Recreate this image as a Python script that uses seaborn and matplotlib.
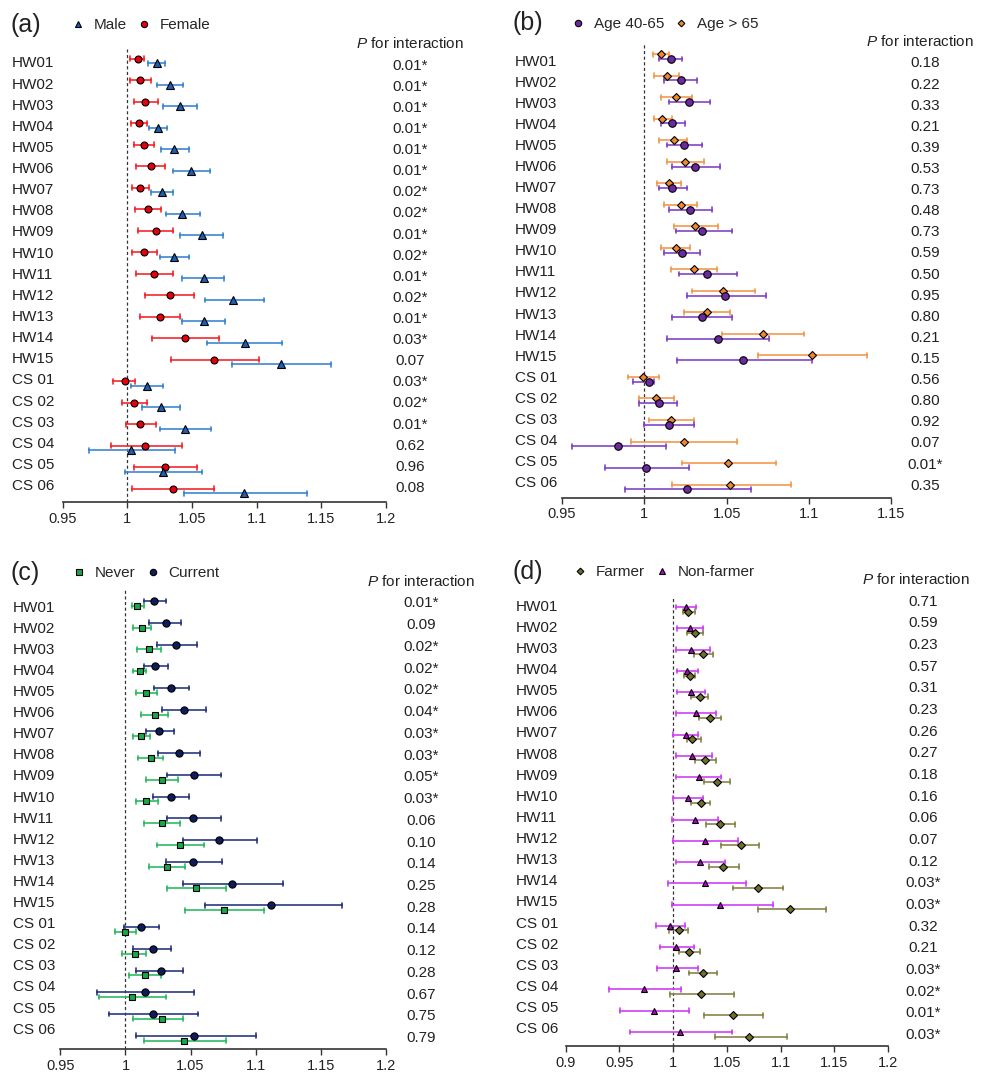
import numpy as np
import pandas as pd
import matplotlib.pyplot as plt
from matplotlib.lines import Line2D
from matplotlib.ticker import FuncFormatter
from matplotlib import transforms
import seaborn as sns

rows = [f"HW{i:02d}" for i in range(1, 16)] + [f"CS {i:02d}" for i in range(1, 7)]

# (a) sex
female_or = [1.008, 1.010, 1.014, 1.009, 1.013, 1.018, 1.010, 1.016, 1.022, 1.013, 1.021,
             1.033, 1.025, 1.045, 1.067, 0.998, 1.005, 1.010, 1.014, 1.029, 1.035]
female_lo = [1.002, 1.002, 1.005, 1.003, 1.005, 1.007, 1.004, 1.006, 1.008, 1.004, 1.007,
             1.014, 1.010, 1.019, 1.034, 0.989, 0.996, 0.999, 0.987, 1.005, 1.004]
female_hi = [1.013, 1.018, 1.024, 1.015, 1.021, 1.029, 1.017, 1.026, 1.035, 1.023, 1.035,
             1.052, 1.041, 1.071, 1.102, 1.006, 1.015, 1.022, 1.042, 1.054, 1.067]
male_or = [1.023, 1.033, 1.041, 1.024, 1.036, 1.049, 1.027, 1.042, 1.058, 1.036, 1.059,
           1.082, 1.059, 1.091, 1.119, 1.015, 1.026, 1.045, 1.003, 1.028, 1.090]
male_lo = [1.016, 1.023, 1.028, 1.017, 1.026, 1.035, 1.018, 1.030, 1.041, 1.025, 1.042,
           1.060, 1.042, 1.062, 1.081, 1.003, 1.011, 1.025, 0.970, 0.998, 1.044]
male_hi = [1.029, 1.043, 1.054, 1.031, 1.048, 1.064, 1.035, 1.056, 1.074, 1.048, 1.075,
           1.106, 1.076, 1.120, 1.158, 1.028, 1.041, 1.065, 1.037, 1.058, 1.139]
p_sex = ["0.01*", "0.01*", "0.01*", "0.01*", "0.01*", "0.01*", "0.02*", "0.02*", "0.01*", "0.02*",
         "0.01*", "0.02*", "0.01*", "0.03*", "0.07", "0.03*", "0.02*", "0.01*", "0.62", "0.96", "0.08"]

# (b) age
old_or = [1.010, 1.014, 1.019, 1.011, 1.018, 1.025, 1.015, 1.022, 1.031, 1.019, 1.030,
          1.048, 1.038, 1.072, 1.102, 0.999, 1.007, 1.016, 1.024, 1.051, 1.052]
old_lo = [1.005, 1.006, 1.010, 1.006, 1.009, 1.014, 1.008, 1.012, 1.018, 1.010, 1.016,
          1.029, 1.024, 1.047, 1.069, 0.990, 0.997, 1.003, 0.992, 1.023, 1.017]
old_hi = [1.015, 1.021, 1.029, 1.017, 1.026, 1.036, 1.022, 1.032, 1.045, 1.028, 1.044,
          1.067, 1.052, 1.097, 1.135, 1.009, 1.018, 1.030, 1.056, 1.080, 1.089]
mid_or = [1.016, 1.022, 1.027, 1.017, 1.024, 1.031, 1.017, 1.028, 1.035, 1.023, 1.038,
          1.049, 1.035, 1.045, 1.060, 1.003, 1.009, 1.015, 0.984, 1.001, 1.026]
mid_lo = [1.009, 1.012, 1.015, 1.010, 1.014, 1.017, 1.009, 1.015, 1.019, 1.012, 1.021,
          1.026, 1.017, 1.014, 1.020, 0.993, 0.997, 1.000, 0.956, 0.976, 0.988]
mid_hi = [1.023, 1.032, 1.040, 1.025, 1.035, 1.046, 1.026, 1.041, 1.053, 1.034, 1.056,
          1.074, 1.053, 1.076, 1.102, 1.006, 1.020, 1.030, 1.013, 1.027, 1.065]
p_age = ["0.18", "0.22", "0.33", "0.21", "0.39", "0.53", "0.73", "0.48", "0.73", "0.59", "0.50",
         "0.95", "0.80", "0.21", "0.15", "0.56", "0.80", "0.92", "0.07", "0.01*", "0.35"]

# (c) smoking
never_or = [1.009, 1.013, 1.018, 1.011, 1.016, 1.023, 1.012, 1.020, 1.028, 1.016, 1.028,
            1.042, 1.032, 1.054, 1.076, 1.000, 1.007, 1.015, 1.005, 1.028, 1.045]
never_lo = [1.005, 1.006, 1.009, 1.006, 1.008, 1.012, 1.006, 1.010, 1.016, 1.008, 1.014,
            1.024, 1.018, 1.032, 1.046, 0.992, 0.997, 1.003, 0.980, 1.006, 1.014]
never_hi = [1.014, 1.020, 1.027, 1.016, 1.024, 1.033, 1.019, 1.029, 1.040, 1.025, 1.042,
            1.060, 1.046, 1.077, 1.106, 1.008, 1.016, 1.027, 1.031, 1.044, 1.077]
current_or = [1.022, 1.031, 1.039, 1.023, 1.035, 1.045, 1.026, 1.041, 1.053, 1.035, 1.052,
              1.072, 1.052, 1.082, 1.112, 1.012, 1.021, 1.027, 1.015, 1.021, 1.053]
current_lo = [1.014, 1.018, 1.024, 1.014, 1.022, 1.028, 1.016, 1.025, 1.032, 1.021, 1.032,
              1.044, 1.031, 1.044, 1.061, 0.999, 1.006, 1.008, 0.978, 0.987, 1.008]
current_hi = [1.031, 1.043, 1.055, 1.033, 1.049, 1.062, 1.037, 1.057, 1.073, 1.049, 1.073,
              1.101, 1.074, 1.121, 1.166, 1.026, 1.035, 1.044, 1.053, 1.056, 1.100]
p_smoke = ["0.01*", "0.09", "0.02*", "0.02*", "0.02*", "0.04*", "0.03*", "0.03*", "0.05*", "0.03*",
           "0.06", "0.10", "0.14", "0.25", "0.28", "0.14", "0.12", "0.28", "0.67", "0.75", "0.79"]

# (d) occupation
nonfarm_or = [1.012, 1.016, 1.017, 1.013, 1.017, 1.021, 1.012, 1.018, 1.024, 1.014, 1.020,
              1.030, 1.025, 1.030, 1.044, 0.997, 1.003, 1.003, 0.973, 0.982, 1.006]
nonfarm_lo = [1.003, 1.004, 1.003, 1.004, 1.004, 1.003, 1.000, 1.003, 1.003, 1.000, 0.999,
              1.000, 1.003, 0.995, 0.999, 0.984, 0.988, 0.985, 0.940, 0.951, 0.960]
nonfarm_hi = [1.021, 1.028, 1.034, 1.023, 1.030, 1.040, 1.023, 1.036, 1.045, 1.028, 1.042,
              1.060, 1.048, 1.068, 1.093, 1.011, 1.019, 1.023, 1.007, 1.015, 1.055]
farm_or = [1.014, 1.020, 1.028, 1.016, 1.025, 1.034, 1.018, 1.030, 1.041, 1.026, 1.044,
           1.063, 1.046, 1.079, 1.109, 1.005, 1.015, 1.028, 1.026, 1.056, 1.071]
farm_lo = [1.009, 1.013, 1.019, 1.010, 1.017, 1.024, 1.013, 1.020, 1.029, 1.017, 1.031,
           1.045, 1.033, 1.056, 1.079, 0.996, 1.005, 1.015, 0.997, 1.029, 1.039]
farm_hi = [1.020, 1.028, 1.037, 1.020, 1.032, 1.045, 1.026, 1.040, 1.053, 1.034, 1.058,
           1.080, 1.061, 1.102, 1.142, 1.014, 1.025, 1.041, 1.057, 1.084, 1.106]
p_farm = ["0.71", "0.59", "0.23", "0.57", "0.31", "0.23", "0.26", "0.27", "0.18", "0.16", "0.06",
          "0.07", "0.12", "0.03*", "0.03*", "0.32", "0.21", "0.03*", "0.02*", "0.01*", "0.03*"]

sns.set_theme(style="ticks")
plt.rcParams["font.family"] = ["Liberation Sans", "DejaVu Sans"]
plt.rcParams["mathtext.fontset"] = "custom"
plt.rcParams["mathtext.it"] = "Liberation Sans:italic"
plt.rcParams["mathtext.rm"] = "Liberation Sans"

W, H = 986, 1074
fig = plt.figure(figsize=(W / 100, H / 100), dpi=100)


def to_long(series):
    recs = []
    for name, (est, lo, hi) in series.items():
        for r, e, l, h in zip(rows, est, lo, hi):
            for v in (l, e, h):
                recs.append({"row": r, "group": name, "value": v})
    return pd.DataFrame(recs)


def forest(c):
    x0, y0, x1, y1 = c["box"]
    ax = fig.add_axes([x0 / W, 1 - y1 / H, (x1 - x0) / W, (y1 - y0) / H])
    df = to_long(c["series"])
    order = list(c["series"])  # upper group first
    # median of (lo, est, hi) = estimate, 0-100 percentile interval = CI
    sns.pointplot(data=df, x="value", y="row", hue="group", order=rows, hue_order=order,
                  estimator="median", errorbar=("pi", 100), orient="y", dodge=0.22,
                  palette=dict(zip(order, c["bars"])), markers=c["markers"],
                  linestyles="none", capsize=0.22, err_kws={"linewidth": 1.2},
                  markeredgecolor="black", markeredgewidth=0.8, legend=False, ax=ax)
    pts = [l for l in ax.lines if l.get_marker() not in ("None", None, "")]
    for line, fc, ms in zip(pts, c["faces"], c["sizes"]):
        line.set_markerfacecolor(fc)
        line.set_markersize(ms)
        line.set_zorder(4)

    ax.axvline(1, color="#333333", lw=0.9, ls=(0, (2.5, 2)), zorder=1)
    ax.set_xlim(c["xlim"])
    ax.set_xticks(c["xticks"])
    ax.xaxis.set_major_formatter(FuncFormatter(lambda v, _: f"{v:g}"))
    ax.set_ylim(20 + c["ybot"], -c["ytop"])
    ax.set_yticks([])
    ax.set_xlabel("")
    ax.set_ylabel("")
    sns.despine(ax=ax, left=True)
    ax.spines["bottom"].set_color("#333333")
    ax.spines["bottom"].set_linewidth(1.2)
    ax.tick_params(axis="x", length=4, width=1, color="#333333", labelsize=10.5,
                   pad=3, labelcolor="#222222")

    tr = transforms.blended_transform_factory(fig.transFigure, ax.transData)
    for lab, y in zip(rows, np.linspace(*c["label_span"], len(rows))):
        ax.text(c["label_x"] / W, y, lab, transform=tr, ha="left", va="center",
                fontsize=11, color="#222222")
    for p, y in zip(c["pvals"], np.linspace(*c["p_span"], len(rows))):
        ax.text(c["p_x"] / W, y, p, transform=tr, ha="center", va="center",
                fontsize=11, color="#222222")

    hx, hy = c["header"]
    fig.text(hx / W, 1 - hy / H, "$P$ for interaction", ha="center", va="center",
             fontsize=11, color="#222222")
    tx, ty = c["title_xy"]
    fig.text(tx / W, 1 - ty / H, c["title"], ha="left", va="center", fontsize=18,
             color="#222222")

    handles = []
    for name in c["legend_order"]:
        i = order.index(name)
        handles.append(Line2D([], [], ls="none", marker=c["markers"][i],
                              markerfacecolor=c["faces"][i], markeredgecolor="black",
                              markeredgewidth=0.8, markersize=c["leg_sizes"][i], label=name))
    lx, ly = c["legend_xy"]
    fig.legend(handles=handles, loc="center left", bbox_to_anchor=(lx / W, 1 - ly / H),
               ncol=2, frameon=False, fontsize=11, handlelength=1.0, handletextpad=0.55,
               columnspacing=0.6, borderpad=0, borderaxespad=0)
    return ax


ticks_a = [0.95, 1.0, 1.05, 1.1, 1.15, 1.2]

panels = [
    dict(series={"Female": (female_or, female_lo, female_hi), "Male": (male_or, male_lo, male_hi)},
         legend_order=["Male", "Female"], markers=["o", "^"],
         faces=["#e3000f", "#1d5fb0"], bars=["#f5282d", "#3b86d4"],
         sizes=[5.0, 5.2], leg_sizes=[4.5, 4.8], pvals=p_sex,
         box=(62.7, 49, 385.7, 502), xlim=(0.95, 1.2), xticks=ticks_a,
         ytop=0.56, ybot=0.51, label_x=12, label_span=(0.11, 19.77),
         p_x=410, p_span=(0.22, 19.85), header=(410, 44),
         title="(a)", title_xy=(10, 25), legend_xy=(70.4, 25)),
    dict(series={"Age > 65": (old_or, old_lo, old_hi), "Age 40-65": (mid_or, mid_lo, mid_hi)},
         legend_order=["Age 40-65", "Age > 65"], markers=["D", "o"],
         faces=["#f0882c", "#6c2aa0"], bars=["#f39a4f", "#8246c8"],
         sizes=[3.6, 5.4], leg_sizes=[3.4, 4.6], pvals=p_age,
         box=(562, 43, 891.3, 497.7), xlim=(0.95, 1.15), xticks=ticks_a[:-1],
         ytop=0.63, ybot=0.5, label_x=515, label_span=(0.24, 19.82),
         p_x=925, p_span=(0.32, 19.94), header=(920, 42),
         title="(b)", title_xy=(513, 23), legend_xy=(570.4, 24)),
    dict(series={"Current": (current_or, current_lo, current_hi), "Never": (never_or, never_lo, never_hi)},
         legend_order=["Never", "Current"], markers=["o", "s"],
         faces=["#0e1d5a", "#18a84a"], bars=["#2b3a80", "#2dbb62"],
         sizes=[5.2, 4.8], leg_sizes=[4.6, 4.4], pvals=p_smoke,
         box=(60.3, 590, 386, 1049), xlim=(0.95, 1.2), xticks=ticks_a,
         ytop=0.62, ybot=0.5, label_x=13, label_span=(0.19, 19.61),
         p_x=421, p_span=(0.0, 20.0), header=(421, 582),
         title="(c)", title_xy=(10, 573), legend_xy=(71.4, 573)),
    dict(series={"Non-farmer": (nonfarm_or, nonfarm_lo, nonfarm_hi), "Farmer": (farm_or, farm_lo, farm_hi)},
         legend_order=["Farmer", "Non-farmer"], markers=["^", "D"],
         faces=["#b400c8", "#6f6f2e"], bars=["#d040f5", "#86864a"],
         sizes=[5.0, 3.8], leg_sizes=[4.6, 3.4], pvals=p_farm,
         box=(565.7, 596.7, 888, 1046), xlim=(0.9, 1.2), xticks=[0.9] + ticks_a,
         ytop=0.6, ybot=0.55, label_x=516, label_span=(-0.13, 19.76),
         p_x=923, p_span=(-0.37, 20.03), header=(916, 580),
         title="(d)", title_xy=(513, 572), legend_xy=(572.4, 572)),
]

for cfg in panels:
    forest(cfg)

fig.savefig("out.png", dpi=100, facecolor="white")
